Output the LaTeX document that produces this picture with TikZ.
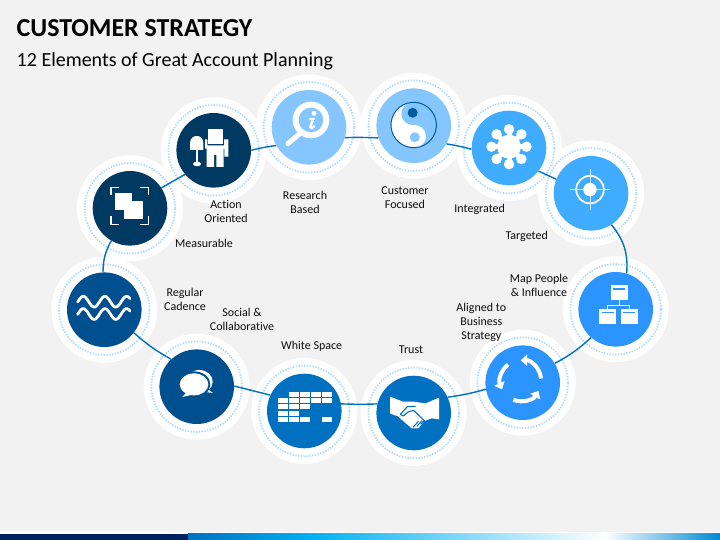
\documentclass[tikz,border=0pt]{standalone}
\usepackage{fontspec}
\setmainfont[Ligatures=NoCommon]{Carlito}
\usetikzlibrary{arrows.meta}
\definecolor{pagebg}{HTML}{F2F2F2}
\definecolor{navy}{HTML}{003A63}
\definecolor{deep}{HTML}{00508F}
\definecolor{midblue}{HTML}{0070C0}
\definecolor{brightblue}{HTML}{2B94FF}
\definecolor{skyblue}{HTML}{40ACFF}
\definecolor{paleblue}{HTML}{85C6FF}
\definecolor{ringblue}{HTML}{A6D8FF}
\definecolor{barnavy}{HTML}{002060}
\definecolor{barcyan}{HTML}{00B0F0}
\definecolor{yindark}{HTML}{005A9E}
\tikzset{
  disc/.style={circle,minimum size=74.6pt,inner sep=0pt,fill=#1},
  link/.style={midblue,line width=1.4pt},
  lbl/.style={font=\fontsize{12}{14}\selectfont,align=center,text=black!95,inner sep=0pt,yshift=-0.2pt},
  iconz/.style={x=0.3333pt,y=-0.3333pt},
  cell/.style={fill=white}
}
\begin{document}
\begin{tikzpicture}[x=1pt,y=-1pt]
\useasboundingbox (0,0) rectangle (720,540);
\fill[pagebg] (0,0) rectangle (720,540);
% bottom bar
\fill[white] (0,532.3) rectangle (720,534);
\fill[barnavy] (0,533.5) rectangle (188,540);
\shade[left color=midblue,right color=barcyan] (188,533.5) rectangle (310,540);
\shade[left color=barcyan,right color=white] (309.7,533.5) rectangle (605,540);
\shade[left color=white,right color=midblue!60!barcyan] (604.7,533.5) rectangle (720,540);
% title
\node[anchor=base west,inner sep=0pt,font=\fontsize{25.9}{28}\selectfont\bfseries,text=black] (ttl) at (16.5,36.5) {CUSTOMER STRATEGY};
\node[anchor=base west,inner sep=0pt,font=\fontsize{20}{24}\selectfont,text=black] (sub) at (16.5,66.5) {12 Elements of Great Account Planning};
% halos and dotted rings
\foreach \x/\y in {130/208.3,213.7/150.3,309/127.3,413.7/125.7,509/148,591/193.3,615.7/309.3,522.7/382.7,413.7/413,304.3/411,196.7/386.7,104.3/309.7}
  \fill[white] (\x,\y) circle[radius=53pt];
\foreach \x/\y in {130/208.3,213.7/150.3,309/127.3,413.7/125.7,509/148,591/193.3,615.7/309.3,522.7/382.7,413.7/413,304.3/411,196.7/386.7,104.3/309.7}
  \draw[ringblue,line width=1.7pt,dash pattern=on 1.3pt off 1.5pt] (\x,\y) circle[radius=45.3pt];
% discs
\foreach \n/\x/\y/\c in {mea/130/208.3/navy,act/213.7/150.3/navy,res/309/127.3/paleblue,cus/413.7/125.7/paleblue,int/509/148/skyblue,tar/591/193.3/skyblue,map/615.7/309.3/brightblue,ali/522.7/382.7/brightblue,tru/413.7/413/midblue,whi/304.3/411/midblue,soc/196.7/386.7/deep,reg/104.3/309.7/deep}
  \node[disc=\c] (\n) at (\x,\y) {};
% connectors
\draw[link] (reg.92) to[bend left=14] (mea.-120);
\draw[link] (mea.33) to (act.-140);
\draw[link] (act.0) to[bend left=3] (res.-151);
\draw[link] (res.-16) to[bend left=2] (cus.-161);
\draw[link] (cus.-29) to[bend left=3] (int.-178);
\draw[link] (int.-38) to (tar.158);
\draw[link] (tar.-57) to[bend left=22] (map.73);
\draw[link] (map.-131) to[bend left=7] (ali.31);
\draw[link] (ali.190) to[bend left=4] (tru.25);
\draw[link] (tru.166) to[bend left=2] (whi.11);
\draw[link] (whi.155) to (soc.1);
\draw[link] (soc.133) to[bend left=6] (reg.-38);
% labels
\node[lbl] (l1) at (226,211) {Action\\Oriented};
\node[lbl] (l2) at (305,201.7) {Research\\Based};
\node[lbl] (l3) at (405,197) {Customer\\Focused};
\node[lbl] (l4) at (479.7,208.7) {Integrated};
\node[lbl] (l5) at (526.7,235.7) {Targeted};
\node[lbl] (l6) at (539,285.3) {Map People\\\& Influence};
\node[lbl] (l7) at (481.3,321.7) {Aligned to\\Business\\Strategy};
\node[lbl] (l8) at (411,349.7) {Trust};
\node[lbl] (l9) at (311.7,346) {White Space};
\node[lbl] (l10) at (242,318.7) {Social \&\\Collaborative};
\node[lbl] (l11) at (185,299) {Regular\\Cadence};
\node[lbl] (l12) at (204,243.3) {Measurable};
% icon: measurable
\begin{scope}[shift={(mea.center)},iconz,shift={(-270,-415)}]
  \fill[white] (226,370) rectangle (276,420);
  \fill[white] (252,393) rectangle (308,447);
  \draw[white,line width=1.3pt] (213,376)--(213,353)--(238,353);
  \draw[white,line width=1.3pt] (301,353)--(325,353)--(325,376);
  \draw[white,line width=1.3pt] (213,438)--(213,463)--(238,463);
  \draw[white,line width=1.3pt] (301,463)--(325,463)--(325,438);
\end{scope}
% icon: action
\begin{scope}[shift={(act.center)},iconz,shift={(-521,-241)}]
  \fill[white] (505,178) rectangle (548,222);
  \fill[white] (495,208)--(502,208)--(502,226)--(552,226)--(552,208)--(565,208)--(565,260)--(553,260)--(553,236)--(551,236)--(551,291)--(529,291)--(529,255)--(522,255)--(522,291)--(500,291)--(500,236)--(495,236)--cycle;
  \fill[white] (450,240)--(450,220) .. controls (450,205) and (460,198) .. (470,198) .. controls (480,198) and (490,205) .. (490,220)--(490,240)--cycle;
  \fill[white] (468,240) rectangle (473,280);
  \fill[white] (471,282) ellipse[x radius=12,y radius=7];
\end{scope}
% icon: research
\begin{scope}[shift={(res.center)},iconz,shift={(-807,-172)}]
  \draw[white,line width=5pt,line cap=round] (778,192)--(744,221);
  \fill[white] (813,150) circle[radius=55];
  \fill[paleblue] (813,150) circle[radius=37];
  \fill[white] (822,130) circle[radius=7.5];
  \draw[white,line width=2.3pt] (808,147)--(820,147)--(811,170) .. controls (809,176) and (816,176) .. (824,168);
\end{scope}
% icon: customer
\begin{scope}[shift={(cus.center)},x=1pt,y=1pt,shift={(0,0.7)},rotate=5]
  \fill[white] (0,0) circle[radius=22.7pt];
  \fill[paleblue] (0,22.7) arc[start angle=90,end angle=-90,radius=22.7pt] arc[start angle=-90,end angle=90,radius=11.35pt] arc[start angle=-90,end angle=-270,radius=11.35pt] -- cycle;
  \fill[yindark] (0,12.3) circle[radius=5pt];
  \fill[paleblue] (0,-12.3) circle[radius=5pt];
  \draw[yindark,line width=1pt] (0,0) circle[radius=22.7pt];
\end{scope}
% icon: integrated
\begin{scope}[shift={(int.center)},x=1pt,y=1pt,shift={(0,1.3)}]
  \fill[white] (0,0) circle[radius=12pt];
  \foreach \a in {0,45,...,315} {
    \draw[white,line width=5pt] (0,0)--(\a:17.5pt);
    \fill[white] (\a:17.5pt) circle[radius=5.2pt];
  }
\end{scope}
% icon: targeted
\begin{scope}[shift={(tar.center)},x=1pt,y=1pt,shift={(-1,3.7)}]
  \draw[white,opacity=.75,line width=.6pt] (-20,0)--(20,0) (0,-20.3)--(0,20.3);
  \draw[white,line width=1.7pt] (0,0) circle[radius=13.8pt];
  \fill[white] (0,0) circle[radius=6.7pt];
\end{scope}
% icon: map people
\begin{scope}[shift={(map.center)},iconz,shift={(-797,-178)}]
  \draw[white,line width=1pt] (808,150)--(808,166) (773,180)--(773,166)--(838,166)--(838,180);
  \fill[white] (783,105) rectangle (833,150);
  \fill[white] (748,178) rectangle (798,222);
  \fill[white] (813,178) rectangle (863,222);
  \fill[brightblue] (790,114) rectangle (826,119);
  \fill[brightblue] (755,185) rectangle (791,190);
  \fill[brightblue] (820,185) rectangle (856,190);
\end{scope}
% icon: aligned
\begin{scope}[shift={(ali.center)},x=1pt,y=1pt,shift={(-2,2)}]
  \tikzset{arc tip/.style={white,line width=4pt,-{Triangle[width=11pt,length=6.5pt]}}}
  \draw[arc tip] (6:20.5pt) arc[start angle=6,end angle=90,radius=20.5pt];
  \draw[arc tip] (128:20.5pt) arc[start angle=128,end angle=205,radius=20.5pt];
  \draw[arc tip] (249:20.5pt) arc[start angle=249,end angle=330,radius=20.5pt];
\end{scope}
% icon: trust
\begin{scope}[shift={(tru.center)},iconz,shift={(-86,-84)}]
  \fill[white] (15,35)--(54,50)--(85,50)--(122,55)--(162,38)--(162,103)--(140,100)--(118,108)--(100,130)--(80,130)--(36,92)--(32,92)--(15,85)--cycle;
  \draw[midblue,line width=1.1pt,line join=round] (92,64)--(67,65)--(46,88)--(55,93)--(69,81)--(86,76)--(119,108);
  \draw[midblue,line width=1pt] (84,127)--(100,109) (96,124)--(110,107) (107,118)--(118,106);
\end{scope}
% icon: white space
\begin{scope}[shift={(whi.center)},iconz,shift={(-793,-483)}]
  \foreach \cx/\cy in {747/434,780/434,813/434,847/434,
      713/452,747/452,780/452,813/452,847/452,
      713/470,747/470,780/470,
      713/489,747/489,
      713/508,747/508,780/508,847/508}
    \fill[cell] (\cx,\cy-7.5) rectangle (\cx+30,\cy+7.5);
\end{scope}
% icon: social
\begin{scope}[shift={(soc.center)},iconz,shift={(-470,-410)}]
  \fill[white] (478,395) ellipse[x radius=40,y radius=35];
  \fill[white] (500,415)--(519,429)--(497,426)--cycle;
  \fill[deep] (462,403) ellipse[x radius=49,y radius=39];
  \fill[white] (462,403) ellipse[x radius=43,y radius=33];
  \fill[white] (442,425)--(426,441)--(458,434)--cycle;
\end{scope}
% icon: regular
\begin{scope}[shift={(reg.center)},iconz,shift={(-193,-179)}]
  \draw[white,line width=2.8pt,line cap=round] plot[domain=113:270,samples=80,smooth] (\x,{155-16*cos((\x-130)/65*360)});
  \draw[white,line width=2.8pt,line cap=round] plot[domain=113:270,samples=80,smooth] (\x,{192-16*cos((\x-130)/65*360)});
\end{scope}
\end{tikzpicture}
\end{document}
